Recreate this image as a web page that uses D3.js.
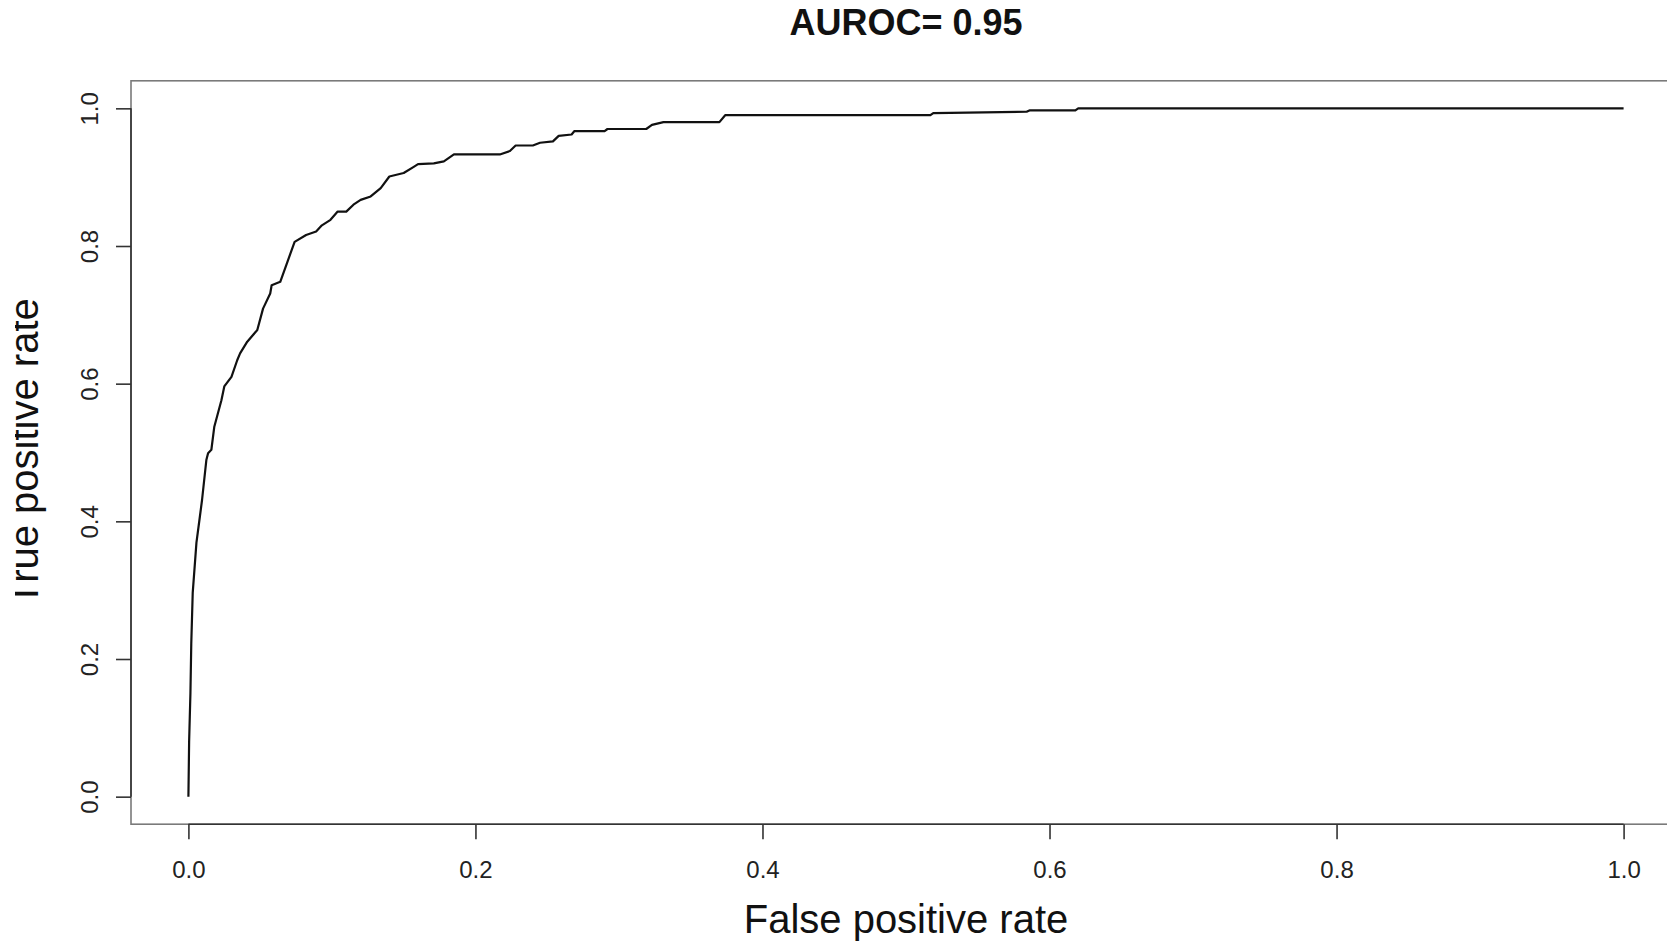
<!DOCTYPE html>
<html>
<head>
<meta charset="utf-8">
<script src="https://cdn.jsdelivr.net/npm/d3@7"></script>
<style>
  html, body { margin: 0; padding: 0; background: #fff; }
  svg { display: block; font-family: "Liberation Sans", Arial, Helvetica, sans-serif; }
</style>
</head>
<body>
<svg id="chart" width="1667" height="945"></svg>
<script>
// ROC curve points: false positive rate / true positive rate
const fpr = [0, 0.0005, 0.0014, 0.002, 0.003, 0.0056, 0.008, 0.0095, 0.0125, 0.0137, 0.016, 0.018,
  0.023, 0.025, 0.030, 0.034, 0.036, 0.041, 0.048, 0.052, 0.057, 0.058, 0.064, 0.069, 0.074,
  0.082, 0.089, 0.093, 0.099, 0.104, 0.110, 0.115, 0.120, 0.127, 0.134, 0.140, 0.150, 0.157,
  0.160, 0.171, 0.178, 0.185, 0.217, 0.224, 0.228, 0.240, 0.245, 0.254, 0.258, 0.267, 0.269,
  0.290, 0.292, 0.319, 0.323, 0.331, 0.370, 0.374, 0.517, 0.519, 0.584, 0.586, 0.618, 0.620, 1.0];
const tpr = [0, 0.08, 0.15, 0.223, 0.296, 0.369, 0.407, 0.431, 0.489, 0.499, 0.504, 0.537,
  0.576, 0.596, 0.610, 0.634, 0.644, 0.661, 0.678, 0.709, 0.731, 0.743, 0.748, 0.777, 0.806,
  0.816, 0.821, 0.830, 0.838, 0.850, 0.850, 0.860, 0.867, 0.872, 0.884, 0.901, 0.906, 0.915,
  0.919, 0.920, 0.923, 0.933, 0.933, 0.938, 0.946, 0.946, 0.950, 0.952, 0.960, 0.962, 0.967,
  0.967, 0.970, 0.970, 0.976, 0.980, 0.980, 0.990, 0.990, 0.993, 0.995, 0.997, 0.997, 1.0, 1.0];

const xTicks = [0, 0.2, 0.4, 0.6, 0.8, 1.0];
const yTicks = [0, 0.2, 0.4, 0.6, 0.8, 1.0];

const titleText = "AUROC= 0.95";
const xLabel = "False positive rate";
const yLabel = "True positive rate";

const svg = d3.select("#chart");

// plot region padded 4% on each side of [0, 1]
const x = d3.scaleLinear().domain([-0.04, 1.04]).range([131, 1681]);
const y = d3.scaleLinear().domain([-0.04, 1.04]).range([824.2, 80.8]);
const fmt = d3.format(".1f");

// frame around the plot region
svg.append("rect")
  .attr("x", x(-0.04)).attr("y", y(1.04))
  .attr("width", x(1.04) - x(-0.04)).attr("height", y(-0.04) - y(1.04))
  .attr("fill", "none").attr("stroke", "#7a7a7a").attr("stroke-width", 1.6);

// bottom axis
const gx = svg.append("g").attr("transform", `translate(0,${y(-0.04)})`)
  .call(d3.axisBottom(x).tickValues(xTicks).tickFormat(fmt).tickSize(15).tickPadding(22));
gx.select(".domain").remove();
gx.append("line").attr("x1", x(0)).attr("x2", x(1)).attr("stroke", "#333").attr("stroke-width", 1.6);
gx.selectAll(".tick line").attr("stroke", "#333").attr("stroke-width", 1.6);
gx.selectAll(".tick text").attr("font-size", 24).attr("fill", "#222")
  .attr("font-family", "Liberation Sans, Arial, sans-serif");

// left axis, labels parallel to the axis
const gy = svg.append("g").attr("transform", `translate(${x(-0.04)},0)`)
  .call(d3.axisLeft(y).tickValues(yTicks).tickFormat(fmt).tickSize(15));
gy.select(".domain").remove();
gy.append("line").attr("y1", y(0)).attr("y2", y(1)).attr("stroke", "#333").attr("stroke-width", 1.6);
gy.selectAll(".tick line").attr("stroke", "#333").attr("stroke-width", 1.6);
gy.selectAll(".tick text")
  .attr("font-size", 24).attr("fill", "#222")
  .attr("font-family", "Liberation Sans, Arial, sans-serif")
  .attr("text-anchor", "middle")
  .attr("transform", "rotate(-90)")
  .attr("x", 0).attr("y", -33).attr("dy", null);

// ROC curve
const pts = fpr.map((f, i) => [f, tpr[i]]);
svg.append("path")
  .datum(pts)
  .attr("fill", "none")
  .attr("stroke", "#111")
  .attr("stroke-width", 2.2)
  .attr("stroke-linejoin", "round")
  .attr("d", d3.line().x(d => x(d[0])).y(d => y(d[1])));

// title
svg.append("text")
  .attr("x", 906).attr("y", 35)
  .attr("text-anchor", "middle")
  .attr("font-size", 36).attr("font-weight", "bold").attr("fill", "#111")
  .text(titleText);

// axis titles
svg.append("text")
  .attr("x", 906).attr("y", 933)
  .attr("text-anchor", "middle")
  .attr("font-size", 40).attr("fill", "#111")
  .text(xLabel);

// the y title is cut at the figure's left margin
svg.append("clipPath").attr("id", "ylab-clip")
  .append("rect").attr("x", 15).attr("y", 0).attr("width", 100).attr("height", 945);

svg.append("g").attr("clip-path", "url(#ylab-clip)")
  .append("text")
  .attr("transform", "translate(38,452) rotate(-90)")
  .attr("text-anchor", "middle")
  .attr("font-size", 40).attr("fill", "#111")
  .text(yLabel);
</script>
</body>
</html>
